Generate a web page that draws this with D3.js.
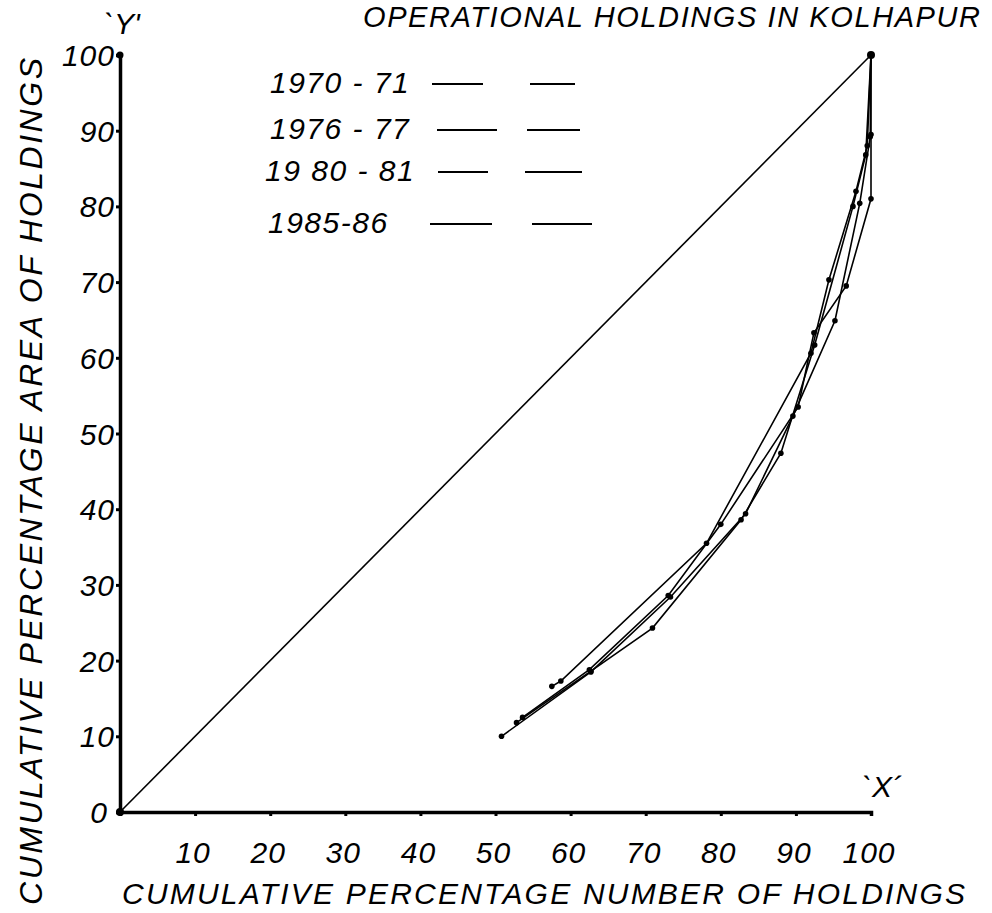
<!DOCTYPE html>
<html><head><meta charset="utf-8">
<script src="https://cdn.jsdelivr.net/npm/d3@7"></script>
<style>
html,body{margin:0;padding:0;background:#fff;}
svg{display:block;}
text{font-family:"Liberation Sans",Arial,sans-serif;font-style:italic;fill:#000;}
</style></head>
<body>
<svg id="chart" width="992" height="913"></svg>
<script>
// ---- data ----
const xTicks = [10,20,30,40,50,60,70,80,90,100];
const yTicks = [0,10,20,30,40,50,60,70,80,90,100];
const seriesNames = ["1970 - 71","1976 - 77","19 80 - 81","1985-86"];
const s1970 = [[50.8,10.0],[62.7,18.5],[73.3,28.4],[83.3,39.4],[89.6,52.3],[95.2,64.9],[98.5,80.4],[99.9,89.2],[100,100]];
const s1976 = [[52.8,11.8],[62.7,18.6],[70.9,24.3],[82.7,38.6],[88.0,47.4],[92.5,61.7],[97.6,80.0],[99.3,86.8],[100,100]];
const s1980 = [[53.6,12.5],[62.5,18.8],[73.0,28.6],[80.0,38.0],[90.3,53.5],[92.4,63.3],[96.7,69.5],[100,81.0],[100,89.5],[100,100]];
const s1985 = [[57.5,16.6],[58.7,17.3],[78.1,35.5],[92.0,60.6],[94.4,70.3],[98.0,82.0],[99.5,88.0],[100,100]];
const equality = [[0,0],[100,100]];
const titleText = "OPERATIONAL HOLDINGS IN KOLHAPUR";
const xTitle = "CUMULATIVE PERCENTAGE NUMBER OF HOLDINGS";
const yTitle = "CUMULATIVE PERCENTAGE AREA OF HOLDINGS";

const allSeries = [s1970, s1976, s1980, s1985];

const svg = d3.select("#chart");
const x = d3.scaleLinear().domain([0,100]).range([120,871]);
const y = d3.scaleLinear().domain([0,100]).range([812,55]);

// axes
const xAxis = d3.axisBottom(x).tickValues(xTicks).tickSize(4).tickFormat("");
const yAxis = d3.axisLeft(y).tickValues(yTicks.filter(d=>d>0)).tickSize(4).tickFormat("");
const gx = svg.append("g").attr("transform",`translate(0,${y(0)})`).call(xAxis);
const gy = svg.append("g").attr("transform",`translate(${x(0)},0)`).call(yAxis);
[gx,gy].forEach(g=>{
  g.select(".domain").attr("stroke","#000").attr("stroke-width",3.5);
  g.selectAll(".tick line").attr("stroke","#000").attr("stroke-width",3);
});

// tick labels
svg.append("g").selectAll("text").data(xTicks).join("text")
  .attr("x",d=>x(d)-2).attr("y",863)
  .attr("text-anchor","middle").attr("font-size",30).attr("letter-spacing",1)
  .text(d=>d);
svg.append("g").selectAll("text").data(yTicks).join("text")
  .attr("x",d=>d===0?108:115).attr("y",d=>y(d)+11)
  .attr("text-anchor","end").attr("font-size",30).attr("letter-spacing",1)
  .text(d=>d);

// equality line
const line = d3.line().x(d=>x(d[0])).y(d=>y(d[1]));
svg.append("path").datum(equality).attr("d",line)
  .attr("fill","none").attr("stroke","#000").attr("stroke-width",1.6);

// series
allSeries.forEach(s=>{
  svg.append("path").datum(s).attr("d",line)
    .attr("fill","none").attr("stroke","#000").attr("stroke-width",1.6);
  svg.append("g").selectAll("circle").data(s.slice(0,-1)).join("circle")
    .attr("cx",d=>x(d[0])).attr("cy",d=>y(d[1])).attr("r",2.8).attr("fill","#000");
});
svg.append("circle").attr("cx",x(100)).attr("cy",y(100)).attr("r",4).attr("fill","#000");
svg.append("circle").attr("cx",x(0)).attr("cy",y(0)).attr("r",4).attr("fill","#000");
svg.append("circle").attr("cx",x(0)).attr("cy",y(100)).attr("r",3.5).attr("fill","#000");

// legend
const legY = [93,139,181,233];
const dash1 = [[432,483],[437,497],[438,488],[430,492]];
const dash2 = [[530,575],[527,580],[525,582],[532,592]];
const legX = [270,270,265,268];
seriesNames.forEach((n,i)=>{
  svg.append("text").attr("x",legX[i]).attr("y",legY[i]).attr("font-size",30)
    .attr("letter-spacing",1.5).text(n);
  [dash1[i],dash2[i]].forEach(dd=>{
    svg.append("line").attr("x1",dd[0]).attr("x2",dd[1])
      .attr("y1",legY[i]-9).attr("y2",legY[i]-9)
      .attr("stroke","#000").attr("stroke-width",1.8);
  });
});

// titles
svg.append("text").attr("x",363).attr("y",27).attr("font-size",29)
  .attr("textLength",617).attr("lengthAdjust","spacing").text(titleText);
svg.append("text").attr("x",122).attr("y",904).attr("font-size",30)
  .attr("textLength",843).attr("lengthAdjust","spacing").text(xTitle);
svg.append("text").attr("transform","translate(42,905) rotate(-90)").attr("font-size",32)
  .attr("textLength",847).attr("lengthAdjust","spacing").text(yTitle);
svg.append("text").attr("x",104).attr("y",34).attr("font-size",30).text("`Y'");
svg.append("text").attr("x",862).attr("y",797).attr("font-size",30).text("`X´");
</script>
</body></html>
